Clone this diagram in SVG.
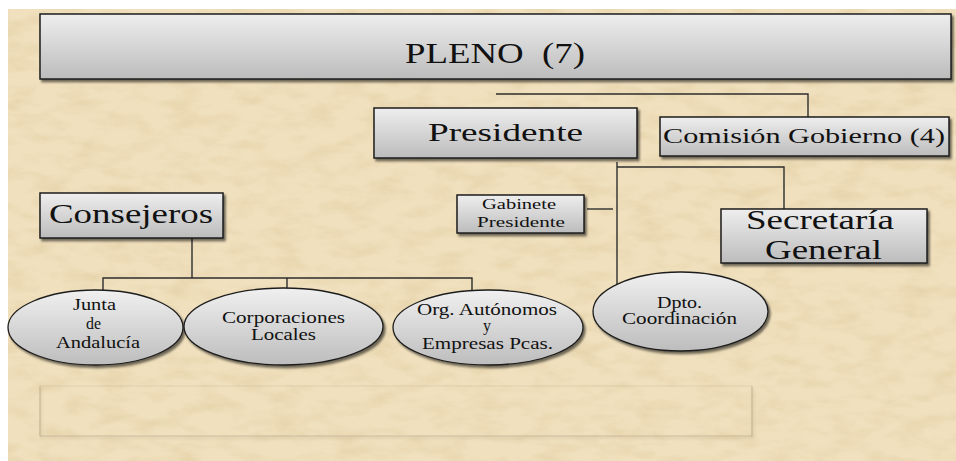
<svg xmlns="http://www.w3.org/2000/svg" width="956" height="461" viewBox="0 0 956 461">
<defs>
<linearGradient id="gBox" x1="0" y1="0" x2="0" y2="1">
<stop offset="0" stop-color="#eeeeee"/>
<stop offset="1" stop-color="#bcbcbc"/>
</linearGradient>
<linearGradient id="gEll" x1="0" y1="0" x2="0" y2="1">
<stop offset="0" stop-color="#f0f0f0"/>
<stop offset="1" stop-color="#bdbdbd"/>
</linearGradient>
<filter id="shadow" x="-10%" y="-10%" width="125%" height="135%">
<feDropShadow dx="2" dy="2.5" stdDeviation="1.2" flood-color="#000" flood-opacity="0.55"/>
</filter>
<filter id="paper" x="0" y="0" width="100%" height="100%">
<feTurbulence type="fractalNoise" baseFrequency="0.03 0.07" numOctaves="4" seed="7" result="n"/>
<feColorMatrix in="n" type="matrix" values="0 0 0 0 0.70  0 0 0 0 0.55  0 0 0 0 0.30  0.9 0 0 0 -0.38"/>
</filter>
<filter id="soft" x="-5%" y="-20%" width="110%" height="150%">
<feDropShadow dx="1" dy="2" stdDeviation="1" flood-color="#6b5a3a" flood-opacity="0.4"/>
</filter>
</defs>
<style>
.box{fill:url(#gBox);stroke:#1e1e1e;stroke-width:1.5;filter:url(#shadow)}
.ell{fill:url(#gEll);stroke:#1e1e1e;stroke-width:1.3;filter:url(#shadow)}
.t{fill:#111;text-anchor:middle}
.conn path{fill:none;stroke:#2e2e2e;stroke-width:1.4}
</style>
<rect x="0" y="0" width="956" height="461" fill="#ffffff"/>
<rect x="8" y="9" width="948" height="452" fill="#f0e0bd"/>
<rect x="8" y="9" width="948" height="452" filter="url(#paper)"/>
<path d="M40 386H752" fill="none" stroke="#b0a283" stroke-opacity="0.25" stroke-width="1"/>
<path d="M40 386V436H752V386" fill="none" stroke="#a89a7c" stroke-opacity="0.5" stroke-width="1.2" filter="url(#soft)"/>
<g class="conn" id="connectors">
<path d="M496 94H808V117"/>
<path d="M617 162V284"/>
<path d="M617 167H784V210"/>
<path d="M587 209H613"/>
<path d="M192 238V278"/>
<path d="M103 290V278H472V291"/>
<path d="M287 278V289"/>
</g>
<g font-family="Liberation Serif, Times New Roman, DejaVu Serif, serif">
<g id="pleno">
<rect class="box" x="40" y="14" width="911" height="65"/>
<text class="t" x="495" y="63" font-size="30" textLength="180" lengthAdjust="spacingAndGlyphs">PLENO&#160; (7)</text>
</g>
<g id="presidente">
<rect class="box" x="374" y="108" width="263" height="50"/>
<text class="t" x="505.5" y="141" font-size="25" textLength="155" lengthAdjust="spacingAndGlyphs">Presidente</text>
</g>
<g id="comision">
<rect class="box" x="660" y="117" width="289" height="39"/>
<text class="t" x="804" y="143" font-size="21" textLength="282" lengthAdjust="spacingAndGlyphs">Comisión Gobierno (4)</text>
</g>
<g id="gabinete">
<rect class="box" x="457" y="195" width="127" height="38"/>
<text class="t" x="519" y="209" font-size="14" textLength="74" lengthAdjust="spacingAndGlyphs">Gabinete</text>
<text class="t" x="521" y="227" font-size="14" textLength="88" lengthAdjust="spacingAndGlyphs">Presidente</text>
</g>
<g id="secretaria">
<rect class="box" x="721" y="209" width="206" height="54"/>
<text class="t" x="820" y="229" font-size="28" textLength="148" lengthAdjust="spacingAndGlyphs">Secretaría</text>
<text class="t" x="823.5" y="259" font-size="28" textLength="117" lengthAdjust="spacingAndGlyphs">General</text>
</g>
<g id="consejeros">
<rect class="box" x="40" y="193" width="183" height="45"/>
<text class="t" x="131" y="223" font-size="28" textLength="164" lengthAdjust="spacingAndGlyphs">Consejeros</text>
</g>
<g id="junta">
<ellipse class="ell" cx="95.5" cy="327.5" rx="87.5" ry="37.5"/>
<text class="t" x="94.5" y="310" font-size="16" textLength="43" lengthAdjust="spacingAndGlyphs">Junta</text>
<text class="t" x="93.5" y="329" font-size="16" textLength="15" lengthAdjust="spacingAndGlyphs">de</text>
<text class="t" x="98" y="348" font-size="16" textLength="84" lengthAdjust="spacingAndGlyphs">Andalucía</text>
</g>
<g id="corporaciones">
<ellipse class="ell" cx="283.5" cy="326.5" rx="99.5" ry="38.5"/>
<text class="t" x="283.5" y="323" font-size="16" textLength="123" lengthAdjust="spacingAndGlyphs">Corporaciones</text>
<text class="t" x="283.5" y="340" font-size="16" textLength="65" lengthAdjust="spacingAndGlyphs">Locales</text>
</g>
<g id="organismos">
<ellipse class="ell" cx="488" cy="327.5" rx="95" ry="37.5"/>
<text class="t" x="487" y="315" font-size="16" textLength="140" lengthAdjust="spacingAndGlyphs">Org. Autónomos</text>
<text class="t" x="487" y="331" font-size="16">y</text>
<text class="t" x="487.5" y="349" font-size="16" textLength="131" lengthAdjust="spacingAndGlyphs">Empresas Pcas.</text>
</g>
<g id="dpto">
<ellipse class="ell" cx="680.5" cy="311.5" rx="87.5" ry="39.5"/>
<text class="t" x="679.5" y="308" font-size="16" textLength="45" lengthAdjust="spacingAndGlyphs">Dpto.</text>
<text class="t" x="679.5" y="324" font-size="16" textLength="115" lengthAdjust="spacingAndGlyphs">Coordinación</text>
</g>
</g>
</svg>
